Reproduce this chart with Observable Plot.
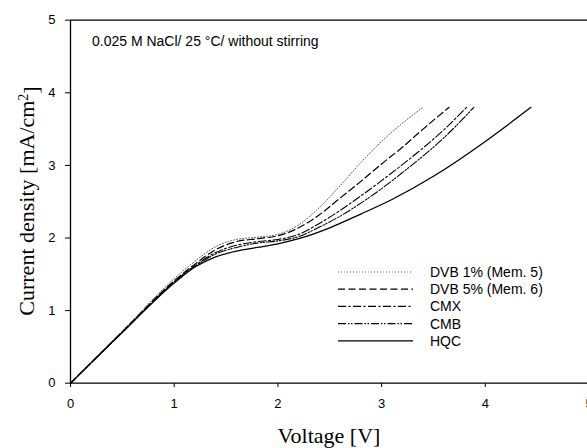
<!DOCTYPE html>
<html><head><meta charset="utf-8">
<script src="https://cdn.jsdelivr.net/npm/d3@7"></script>
<script src="https://cdn.jsdelivr.net/npm/@observablehq/plot@0.6"></script>
<style>
html,body{margin:0;padding:0;background:#fff;}
#chart svg{display:block;overflow:hidden;background:#fff}
</style></head><body><div id="chart"></div>
<script>
// ---- data ----
const seriesNames = ["DVB 1% (Mem. 5)", "DVB 5% (Mem. 6)", "CMX", "CMB", "HQC"];

const dvb1Voltage = [0, 0.5, 1.0, 1.2, 1.4, 1.6, 1.8, 2.0, 2.2, 2.4, 2.6, 2.8, 3.0, 3.2, 3.4];
const dvb1Current = [0, 0.72, 1.44, 1.68, 1.88, 1.98, 2.01, 2.05, 2.18, 2.42, 2.72, 3.04, 3.33, 3.58, 3.80];

const dvb5Voltage = [0, 0.5, 1.0, 1.2, 1.4, 1.6, 1.8, 2.0, 2.2, 2.4, 2.6, 2.8, 3.0, 3.2, 3.4, 3.65];
const dvb5Current = [0, 0.71, 1.41, 1.64, 1.84, 1.95, 1.99, 2.03, 2.14, 2.32, 2.55, 2.78, 3.02, 3.25, 3.50, 3.80];

const cmxVoltage = [0, 0.5, 1.0, 1.2, 1.4, 1.6, 1.8, 2.0, 2.2, 2.4, 2.6, 2.8, 3.0, 3.2, 3.4, 3.6, 3.82];
const cmxCurrent = [0, 0.70, 1.40, 1.62, 1.80, 1.90, 1.95, 1.98, 2.05, 2.20, 2.38, 2.58, 2.79, 3.01, 3.24, 3.49, 3.80];

const cmbVoltage = [0, 0.5, 1.0, 1.2, 1.4, 1.6, 1.8, 2.0, 2.2, 2.4, 2.6, 2.8, 3.0, 3.2, 3.4, 3.6, 3.89];
const cmbCurrent = [0, 0.70, 1.39, 1.61, 1.78, 1.87, 1.93, 1.96, 2.02, 2.15, 2.30, 2.48, 2.68, 2.90, 3.13, 3.38, 3.80];

const hqcVoltage = [0, 0.5, 1.0, 1.2, 1.4, 1.6, 1.8, 2.0, 2.2, 2.5, 2.8, 3.1, 3.5, 4.0, 4.2, 4.44];
const hqcCurrent = [0, 0.70, 1.38, 1.60, 1.74, 1.82, 1.87, 1.92, 1.99, 2.14, 2.33, 2.53, 2.85, 3.33, 3.54, 3.80];

const xTicks = [0, 1, 2, 3, 4, 5];
const yTicks = [0, 1, 2, 3, 4, 5];
const xTitle = "Voltage [V]";
const yTitle = "Current density [mA/cm";
const note = "0.025 M NaCl/ 25 °C/ without stirring";

// ---- build table ----
const voltages = [dvb1Voltage, dvb5Voltage, cmxVoltage, cmbVoltage, hqcVoltage];
const currents = [dvb1Current, dvb5Current, cmxCurrent, cmbCurrent, hqcCurrent];
const rows = [];
seriesNames.forEach((name, k) => {
  voltages[k].forEach((v, i) => rows.push({series: name, v, j: currents[k][i]}));
});

const styles = {
  "DVB 1% (Mem. 5)": {dash: "1,2", width: 0.9, color: "#444"},
  "DVB 5% (Mem. 6)": {dash: "7,3.5", width: 1.2, color: "#000"},
  "CMX": {dash: "8,2.5,2,2.5", width: 1.1, color: "#000"},
  "CMB": {dash: "8,2,1.5,1.5,1.5,2", width: 1.1, color: "#000"},
  "HQC": {dash: null, width: 1.3, color: "#000"}
};

const sans = "'Liberation Sans', Arial, sans-serif";
const serif = "'Liberation Serif', 'Times New Roman', serif";

const lineMarks = seriesNames.map(name => Plot.line(rows.filter(d => d.series === name), {
  x: "v", y: "j", curve: "monotone-x",
  stroke: styles[name].color, strokeWidth: styles[name].width,
  strokeDasharray: styles[name].dash
}));

const chart = Plot.plot({
  width: 587,
  height: 448,
  marginLeft: 70, marginTop: 20, marginBottom: 65, marginRight: 0,
  style: {fontFamily: sans, background: "#fff", color: "#000"},
  x: {domain: [0, 5], range: [70, 588.5]},
  y: {domain: [0, 5], range: [382.7, 19.7]},
  marks: [
    Plot.axisX({ticks: xTicks, tickSize: 4, tickPadding: 11, fontSize: 13, label: null, tickFormat: d => String(d)}),
    Plot.axisY({ticks: yTicks, tickSize: 5, tickPadding: 10, fontSize: 13, label: null, tickFormat: d => String(d)}),
    Plot.ruleY([0, 5], {stroke: "#000", strokeWidth: 1.3}),
    Plot.ruleX([0], {stroke: "#000", strokeWidth: 1.3}),
    ...lineMarks
  ]
});
document.getElementById("chart").appendChild(chart);

// ---- decorations: titles, note, legend ----
const svg = d3.select(chart);
svg.append("text")
  .attr("x", 329).attr("y", 443)
  .attr("text-anchor", "middle")
  .style("font-family", serif).style("font-size", "22px")
  .text(xTitle);

const yt = svg.append("text")
  .attr("transform", "translate(34,201) rotate(-90)")
  .attr("text-anchor", "middle")
  .style("font-family", serif).style("font-size", "22px");
yt.append("tspan").text(yTitle);
yt.append("tspan").attr("dy", "-0.45em").style("font-size", "14px").text("2");
yt.append("tspan").attr("dy", "0.45em").text("]");

svg.append("text")
  .attr("x", 92).attr("y", 46)
  .attr("text-anchor", "start")
  .style("font-family", sans).style("font-size", "14px")
  .text(note);

const lg = svg.append("g");
seriesNames.forEach((name, i) => {
  const y = 272 + i * 17.2;
  lg.append("line")
    .attr("x1", 338).attr("x2", 413).attr("y1", y).attr("y2", y)
    .attr("stroke", styles[name].color).attr("stroke-width", styles[name].width)
    .attr("stroke-dasharray", styles[name].dash);
  lg.append("text")
    .attr("x", 430).attr("y", y).attr("dy", "0.35em")
    .attr("text-anchor", "start")
    .style("font-family", sans).style("font-size", "14px")
    .text(name);
});
</script>
</body></html>
